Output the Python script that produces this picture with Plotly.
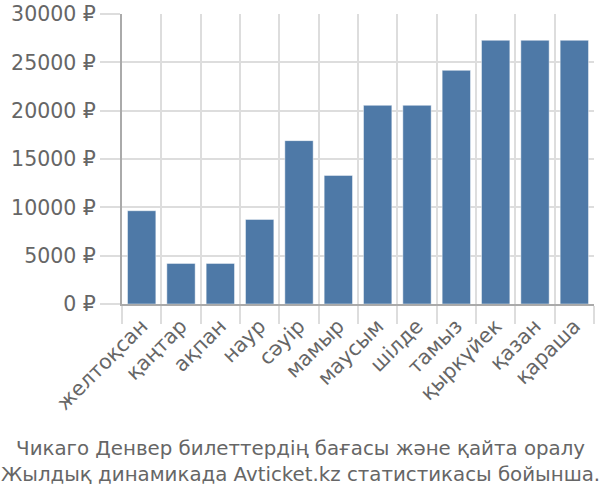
import plotly.graph_objects as go

months = ["желтоқсан", "қаңтар", "ақпан", "наур", "сәуір", "мамыр", "маусым",
          "шілде", "тамыз", "қыркүйек", "қазан", "қараша"]
prices = [9650, 4200, 4200, 8750, 16900, 13300, 20550, 20550, 24170, 27280, 27280, 27280]
y_ticks = [0, 5000, 10000, 15000, 20000, 25000, 30000]
y_tick_text = [f"{v} ₽" for v in y_ticks]
title_lines = ["Чикаго Денвер билеттердің бағасы және қайта оралу",
               "Жылдық динамикада Avticket.kz статистикасы бойынша."]

FONT = "DejaVu Sans"
GRAY = "#666666"
L, R, T, B = 122, 6, 14, 196
W, H = 600, 500

fig = go.Figure(go.Bar(
    x=months, y=prices,
    marker=dict(color="#4e79a7", line=dict(color="rgba(255,255,255,0.45)", width=1)),
    width=0.72,
))

fig.update_layout(
    width=W, height=H,
    margin=dict(l=L, r=R, t=T, b=B, autoexpand=False),
    plot_bgcolor="white", paper_bgcolor="white",
    showlegend=False,
    font=dict(family=FONT, size=20, color=GRAY),
)
fig.update_xaxes(
    type="category", tickson="boundaries", ticks="outside", ticklen=18,
    tickcolor="#dddddd", tickwidth=2,
    showgrid=True, gridcolor="#dddddd", gridwidth=2,
    showline=True, linecolor="#aaaaaa", linewidth=2,
    tickangle=-45, tickfont=dict(family=FONT, size=20.5, color=GRAY),
)
fig.update_yaxes(
    range=[0, 30000], tickvals=y_ticks, ticktext=y_tick_text,
    ticks="outside", ticklen=20, tickcolor="#dddddd", tickwidth=2,
    showgrid=True, gridcolor="#dddddd", gridwidth=2,
    showline=True, linecolor="#aaaaaa", linewidth=2, zeroline=False,
    tickfont=dict(family=FONT, size=20.5, color=GRAY),
)
plot_w = W - L - R
plot_h = H - T - B
fig.add_annotation(
    text="<br>".join(title_lines), xref="paper", yref="paper",
    x=(W / 2 - L) / plot_w, y=(H - B - 461) / plot_h,
    xanchor="center", yanchor="middle", showarrow=False,
    font=dict(family=FONT, size=19.8, color=GRAY), align="center",
)
fig.write_html("out.html", config={"displayModeBar": False},
               post_script="document.body.style.margin='0';")
